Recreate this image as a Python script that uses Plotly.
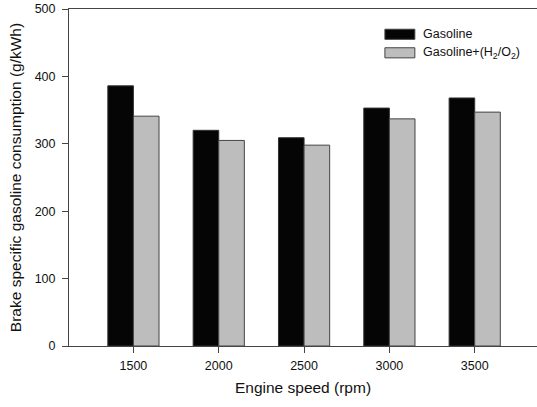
import plotly.graph_objects as go

speeds = ["1500", "2000", "2500", "3000", "3500"]
gasoline = [386, 320, 309, 353, 368]
gasoline_h2o2 = [341, 305, 298, 337, 347]
series_names = ["Gasoline", "Gasoline+(H<sub>2</sub>/O<sub>2</sub>)"]
y_ticks = [0, 100, 200, 300, 400, 500]

FONT = "Liberation Sans, Arial, sans-serif"

fig = go.Figure()
fig.add_trace(go.Bar(x=speeds, y=gasoline, name=series_names[0],
                     marker=dict(color="#050505", line=dict(color="#333333", width=1)),
                     showlegend=False))
fig.add_trace(go.Bar(x=speeds, y=gasoline_h2o2, name=series_names[1],
                     marker=dict(color="#bdbdbd", line=dict(color="#444444", width=1)),
                     showlegend=False))

# manual legend (wide swatches like the reference)
legend_y = [0.925, 0.87]
colors = ["#050505", "#bdbdbd"]
for i, name in enumerate(series_names):
    fig.add_shape(type="rect", xref="paper", yref="paper",
                  x0=0.675, x1=0.739, y0=legend_y[i] - 0.015, y1=legend_y[i] + 0.015,
                  fillcolor=colors[i], line=dict(color="#444444", width=1))
    fig.add_annotation(x=0.753, y=legend_y[i], xref="paper", yref="paper",
                       text=name, showarrow=False, xanchor="left", yanchor="middle",
                       font=dict(family=FONT, size=12.5, color="#111111"))

fig.update_layout(
    width=537, height=407,
    margin=dict(l=69, r=0, t=9, b=61),
    barmode="group", bargap=0.4, bargroupgap=0,
    plot_bgcolor="white", paper_bgcolor="white",
    font=dict(family=FONT, size=12, color="#111111"),
    xaxis=dict(type="category", range=[-0.755, 4.73],
               showline=True, linecolor="#444444", linewidth=1, mirror=True,
               ticks="outside", ticklen=6, tickcolor="#444444",
               tickfont=dict(size=12.5), showgrid=False, ticklabelstandoff=2,
               title=dict(text="Engine speed (rpm)", font=dict(size=15.5), standoff=10)),
    yaxis=dict(range=[0, 500], tickvals=y_ticks,
               showline=True, linecolor="#444444", linewidth=1,
               ticks="outside", ticklen=6, tickcolor="#444444",
               tickfont=dict(size=12.5), showgrid=False, zeroline=False,
               ticklabelstandoff=4,
               title=dict(text="Brake specific gasoline consumption (g/kWh)",
                          font=dict(size=15.5), standoff=9)),
)

fig.write_html("out.html")
